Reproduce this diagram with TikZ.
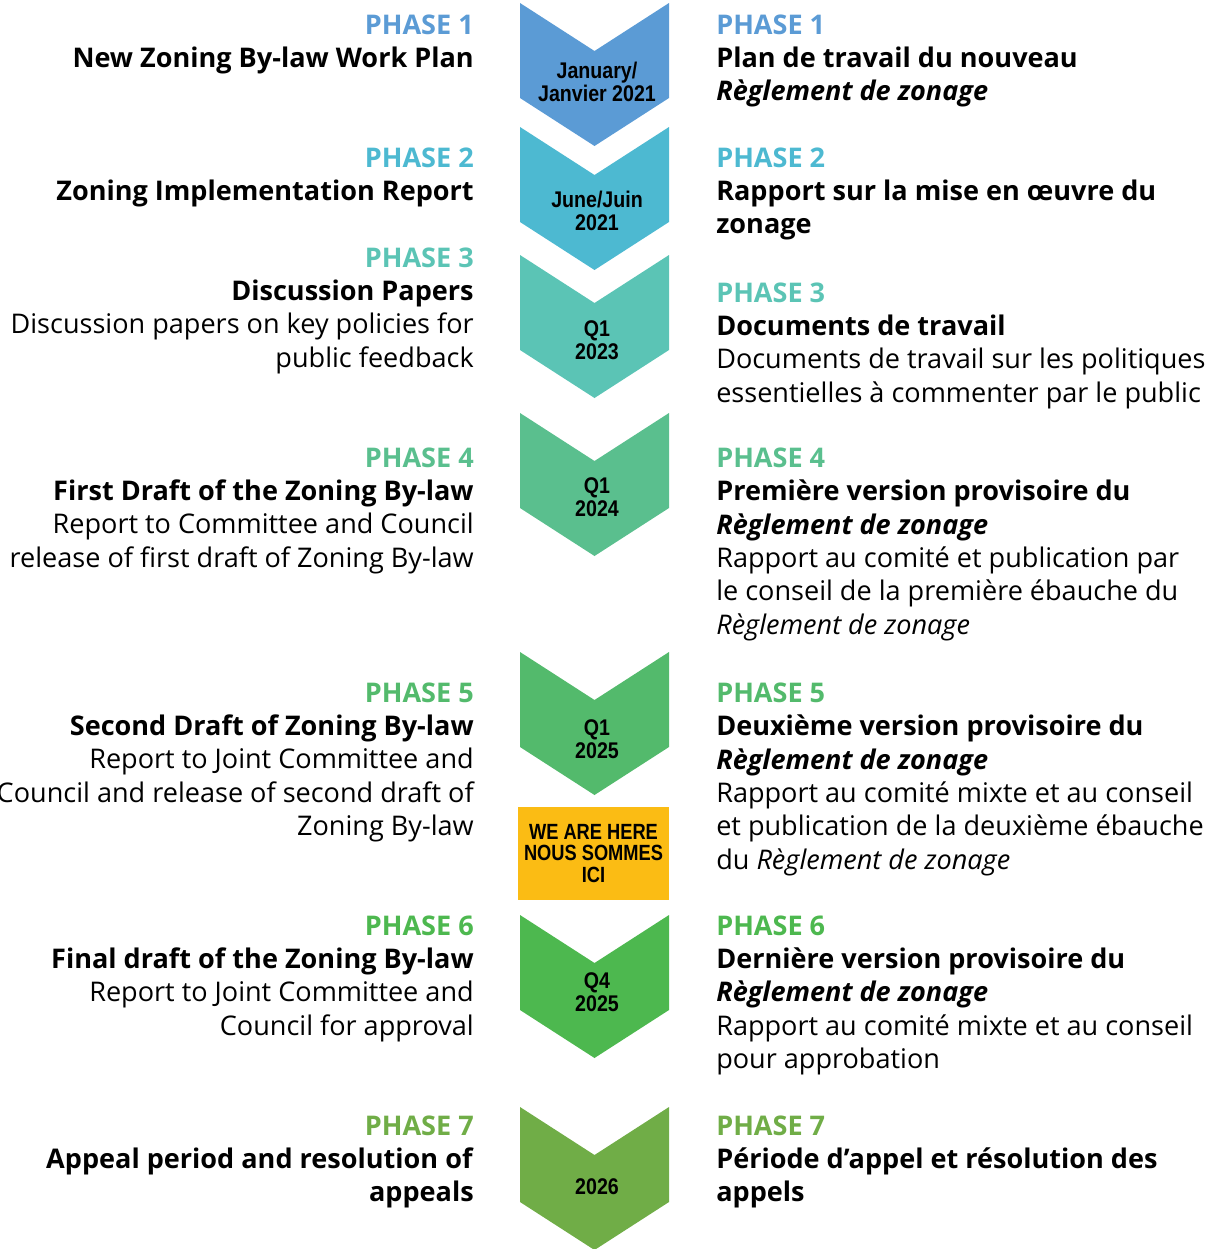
\documentclass[tikz,border=0pt]{standalone}
\usepackage{fontspec}
\setmainfont{Open Sans}
\newfontfamily\datefont[FakeStretch=0.865]{Liberation Sans}
\newfontfamily\herefont[FakeStretch=0.83]{Liberation Sans}

\definecolor{phaseone}{HTML}{5B9BD5}
\definecolor{phasetwo}{HTML}{4DB9D1}
\definecolor{phasethree}{HTML}{5BC4B5}
\definecolor{phasefour}{HTML}{5ABF8E}
\definecolor{phasefive}{HTML}{53BA6C}
\definecolor{phasesix}{HTML}{4DB84F}
\definecolor{phaseseven}{HTML}{70AD47}
\definecolor{herecol}{HTML}{FBBC14}

\newcommand{\phase}[2]{\textcolor{#1}{\textbf{PHASE #2}}}
\newcommand{\rdz}{\textbf{\textit{Règlement de zonage}}}

% text blocks are placed at the baseline of their last line
\tikzset{
  lefttext/.style={anchor=base east, align=right, inner sep=0pt, font=\fontsize{20.3}{25}\selectfont},
  righttext/.style={anchor=base west, align=left, inner sep=0pt, font=\fontsize{20.3}{25}\selectfont},
  datetext/.style={align=center, inner sep=0pt, font=\datefont\bfseries\fontsize{17}{17.5}\selectfont},
  herebox/.style={fill=herecol, align=center, inner sep=0pt, minimum width=113.25pt, minimum height=69.75pt,
    font=\herefont\bfseries\fontsize{16.5}{16}\selectfont}
}

\begin{document}
\begin{tikzpicture}[x=0.75pt,y=-0.75pt]
  \useasboundingbox (0,0) rectangle (1213,1249);

  % chevrons
  \foreach \y/\col in {3/phaseone,127/phasetwo,255/phasethree,413/phasefour,652/phasefive,915/phasesix,1107/phaseseven}
    \fill[\col] (520,\y) -- (594.5,\y+48) -- (669,\y) -- (669,\y+95) -- (594.5,\y+143) -- (520,\y+95) -- cycle;

  % dates
  \node[datetext] (d1) at (597,82)   {January/\\Janvier 2021};
  \node[datetext] (d2) at (597,211)  {June/Juin\\2021};
  \node[datetext] (d3) at (597,340)  {Q1\\2023};
  \node[datetext] (d4) at (597,497)  {Q1\\2024};
  \node[datetext] (d5) at (597,739)  {Q1\\2025};
  \node[datetext] (d6) at (597,992)  {Q4\\2025};
  \node[datetext] (d7) at (597,1187) {2026};

  \node[herebox] (here) at (593.5,853.5) {WE ARE HERE\\NOUS SOMMES\\ICI};

  % english
  \node[lefttext] (l1) at (474,67.4) {\phase{phaseone}{1}\\\textbf{New Zoning By-law Work Plan}};
  \node[lefttext] (l2) at (474,200.4) {\phase{phasetwo}{2}\\\textbf{Zoning Implementation Report}};
  \node[lefttext] (l3) at (474,367.2) {\phase{phasethree}{3}\\\textbf{Discussion Papers}\\Discussion papers on key policies for\\public feedback};
  \node[lefttext] (l4) at (474,567.2) {\phase{phasefour}{4}\\\textbf{First Draft of the Zoning By-law}\\Report to Committee and Council\\release of first draft of Zoning By-law};
  \node[lefttext] (l5) at (474,835.6) {\phase{phasefive}{5}\\\textbf{Second Draft of Zoning By-law}\\Report to Joint Committee and\\Council and release of second draft of\\Zoning By-law};
  \node[lefttext] (l6) at (474,1035.2) {\phase{phasesix}{6}\\\textbf{Final draft of the Zoning By-law}\\Report to Joint Committee and\\Council for approval};
  \node[lefttext] (l7) at (474,1201.8) {\phase{phaseseven}{7}\\\textbf{Appeal period and resolution of}\\\textbf{appeals}};

  % french
  \node[righttext] (r1) at (716,100.8) {\phase{phaseone}{1}\\\textbf{Plan de travail du nouveau}\\\rdz};
  \node[righttext] (r2) at (716,233.8) {\phase{phasetwo}{2}\\\textbf{Rapport sur la mise en œuvre du}\\\textbf{zonage}};
  \node[righttext] (r3) at (716,402.2) {\phase{phasethree}{3}\\\textbf{Documents de travail}\\Documents de travail sur les politiques\\essentielles à commenter par le public};
  \node[righttext] (r4) at (716,634) {\phase{phasefour}{4}\\\textbf{Première version provisoire du}\\\rdz\\Rapport au comité et publication par\\le conseil de la première ébauche du\\\textit{Règlement de zonage}};
  \node[righttext] (r5) at (716,869) {\phase{phasefive}{5}\\\textbf{Deuxième version provisoire du}\\\rdz\\Rapport au comité mixte et au conseil\\et publication de la deuxième ébauche\\du \textit{Règlement de zonage}};
  \node[righttext] (r6) at (716,1068.6) {\phase{phasesix}{6}\\\textbf{Dernière version provisoire du}\\\rdz\\Rapport au comité mixte et au conseil\\pour approbation};
  \node[righttext] (r7) at (716,1201.8) {\phase{phaseseven}{7}\\\textbf{Période d’appel et résolution des}\\\textbf{appels}};
\end{tikzpicture}
\end{document}
